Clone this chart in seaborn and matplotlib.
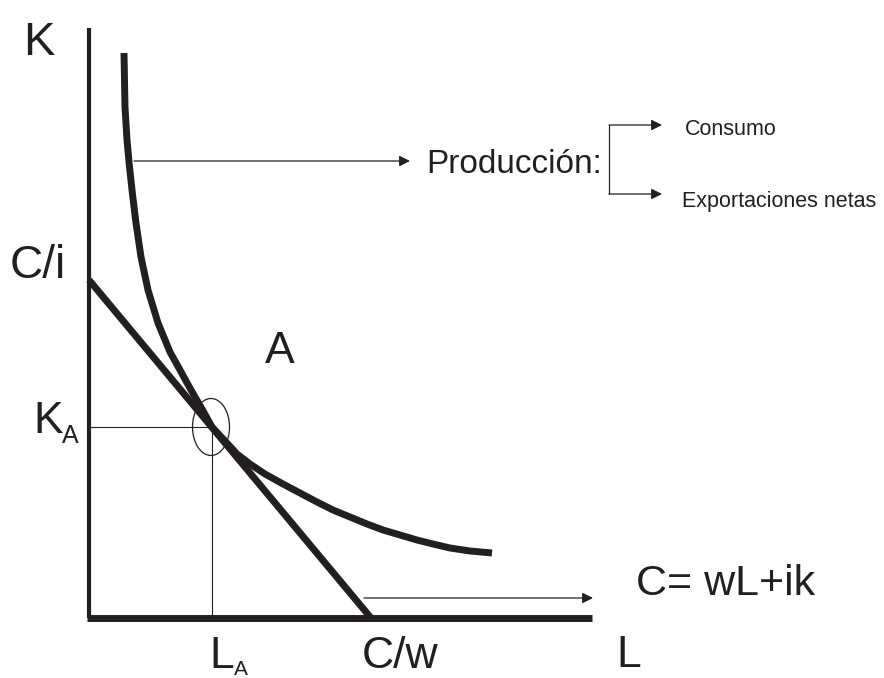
import numpy as np
import pandas as pd
import seaborn as sns
import matplotlib.pyplot as plt
from matplotlib.patches import Ellipse

sns.set_style('white')
plt.rcParams['font.family'] = ['Liberation Sans', 'DejaVu Sans']

ink = '#231f20'

# isoquant (pixel space, y down)
iso_L = [124, 125, 127, 129, 132, 136, 141, 148, 158, 170, 180, 191, 202, 212, 225, 237,
         250, 265, 283, 300, 317, 333, 350, 367, 383, 400, 417, 433, 450, 470, 492]
iso_K = [53, 107, 140, 162, 190, 223, 257, 290, 323, 352, 370, 390, 409, 427, 441, 454,
         464, 474, 484, 493, 502, 510, 517, 524, 530, 535, 540, 544, 548, 551, 553]

# isocost line C = wL + ik
budget_L = [89, 371]
budget_K = [280, 618]

# axes
axis_L = [89, 87, 592]
axis_K = [28, 618, 618]

# tangency point A
tang_L, tang_K = 212, 427

# arrows: (start, end)
arrows = [((134, 161), (410, 161)),
          ((609, 125), (662, 125)),
          ((609, 194), (662, 194)),
          ((364, 598), (593, 598))]
bracket_L = [609, 609]
bracket_K = [125, 194]

# text, position, size
labels = [('K', (23, 55), 34),
          ('C/i', (10, 278), 33),
          ('K', (33, 433), 32),
          ('A', (62, 443), 18),
          ('L', (209, 668), 32),
          ('A', (234, 675), 15),
          ('C/w', (362, 668), 32),
          ('L', (616, 667), 32),
          ('A', (265, 363), 32),
          ('C= wL+ik', (636, 595), 31),
          ('Producción:', (426, 173), 24),
          ('Consumo', (685, 135), 15.5),
          ('Exportaciones netas', (682, 207), 15.5)]

fig = plt.figure(figsize=(8.84, 6.78), dpi=100)
ax = fig.add_axes([0, 0, 1, 1])

sns.lineplot(x=[axis_L[0], axis_L[0]], y=axis_K[:2], sort=False, estimator=None,
             color=ink, linewidth=3, ax=ax, solid_capstyle='butt')
sns.lineplot(x=axis_L[1:], y=axis_K[1:], sort=False, estimator=None,
             color=ink, linewidth=5, ax=ax, solid_capstyle='butt')
sns.lineplot(x=budget_L, y=budget_K, sort=False, estimator=None,
             color=ink, linewidth=5, ax=ax, solid_capstyle='butt')
sns.lineplot(x=iso_L, y=iso_K, sort=False, estimator=None, color=ink, linewidth=5,
             ax=ax, solid_capstyle='butt', solid_joinstyle='round')

# guide lines to the tangency
ax.plot([89, tang_L], [tang_K, tang_K], color=ink, lw=0.8)
ax.plot([tang_L, tang_L], [tang_K, 618], color=ink, lw=0.8)
ax.add_patch(Ellipse((tang_L - 1, tang_K), 37, 57, fill=False, edgecolor=ink, lw=0.9))

ax.plot(bracket_L, bracket_K, color=ink, lw=0.9)
for (x0, y0), (x1, y1) in arrows:
    ax.annotate('', xy=(x1, y1), xytext=(x0, y0),
                arrowprops=dict(arrowstyle='-|>', color=ink, lw=0.9,
                                mutation_scale=16, shrinkA=0, shrinkB=0))

for t, (x, y), size in labels:
    ax.text(x, y, t, fontsize=size, color=ink, va='baseline', ha='left')

ax.set_xlim(0, 884)
ax.set_ylim(678, 0)
ax.axis('off')

fig.savefig('out.png', dpi=100)
